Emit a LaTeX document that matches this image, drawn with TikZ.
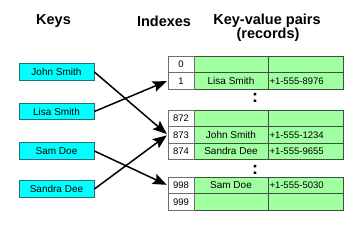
\documentclass[tikz,border=0pt]{standalone}
\usepackage{fontspec}
\setmainfont{Liberation Sans}
\usetikzlibrary{arrows.meta}
\definecolor{keyfill}{RGB}{0,255,255}
\definecolor{keydraw}{RGB}{40,110,120}
\definecolor{recfill}{RGB}{160,255,160}
\definecolor{recdraw}{RGB}{60,80,60}
\definecolor{idxdraw}{RGB}{110,110,110}
\tikzset{
  hdr/.style={font=\fontsize{14.5}{16}\selectfont\bfseries, inner sep=0pt},
  keybox/.style={draw=keydraw, fill=keyfill, line width=0.8pt, minimum width=75pt, minimum height=16.5pt, inner sep=0pt, font=\fontsize{10}{12}\selectfont},
  idx/.style={draw=idxdraw, fill=white, line width=0.7pt, minimum width=26pt, minimum height=16.5pt, inner sep=0pt, font=\fontsize{9.5}{11}\selectfont},
  nm/.style={draw=recdraw, fill=recfill, line width=0.7pt, minimum width=74pt, minimum height=16.5pt, inner sep=0pt, font=\fontsize{10}{12}\selectfont},
  ph/.style={draw=recdraw, fill=recfill, line width=0.7pt, text width=72pt, align=left, minimum height=16.5pt, inner xsep=1.5pt, inner ysep=0pt, font=\fontsize{9.5}{11}\selectfont},
  vdots/.style={font=\fontsize{18}{18}\selectfont\bfseries, inner sep=0pt},
  link/.style={line width=1.5pt, -{Stealth[length=14pt,width=11pt,inset=2.5pt]}, shorten >=1pt}
}
\begin{document}
\begin{tikzpicture}[x=1pt,y=-1pt]
\useasboundingbox (0,0) rectangle (362,226);
% headers
\node[hdr] (hk) at (53.5,21) {Keys};
\node[hdr] (hi) at (164,21) {Indexes};
\node[hdr] (hr) at (267,21) {Key-value pairs};
\node[hdr] (hr2) at (268,35) {(records)};
% keys
\node[keybox] (kjohn) at (56.5,72) {John Smith};
\node[keybox] (klisa) at (56.5,111.5) {Lisa Smith};
\node[keybox] (ksam) at (56.5,151) {Sam Doe};
\node[keybox] (ksandra) at (56.5,189) {Sandra Dee};
% table rows
\foreach \n/\y/\name/\phone in {0/64.25//, 1/80.75/Lisa Smith/+1-555-8976, 872/118.25//, 873/134.75/John Smith/+1-555-1234, 874/151.25/Sandra Dee/+1-555-9655, 998/185.25/Sam Doe/+1-555-5030, 999/201.75//}{
  \node[nm] (n\n) at (231,\y) {\name};
  \node[ph] (p\n) at (305.5,\y) {\phone};
  \node[idx] (i\n) at (181,\y) {\n};
}
\node[vdots] (d1) at (255,97.5) {:};
\node[vdots] (d2) at (255,170) {:};
% links
\draw[link] (kjohn.east) -- (i873.west);
\draw[link] (klisa.east) -- (i1.west);
\draw[link] (ksam.east) -- (i998.west);
\draw[link] (ksandra.east) -- (i873.west);
\end{tikzpicture}
\end{document}
